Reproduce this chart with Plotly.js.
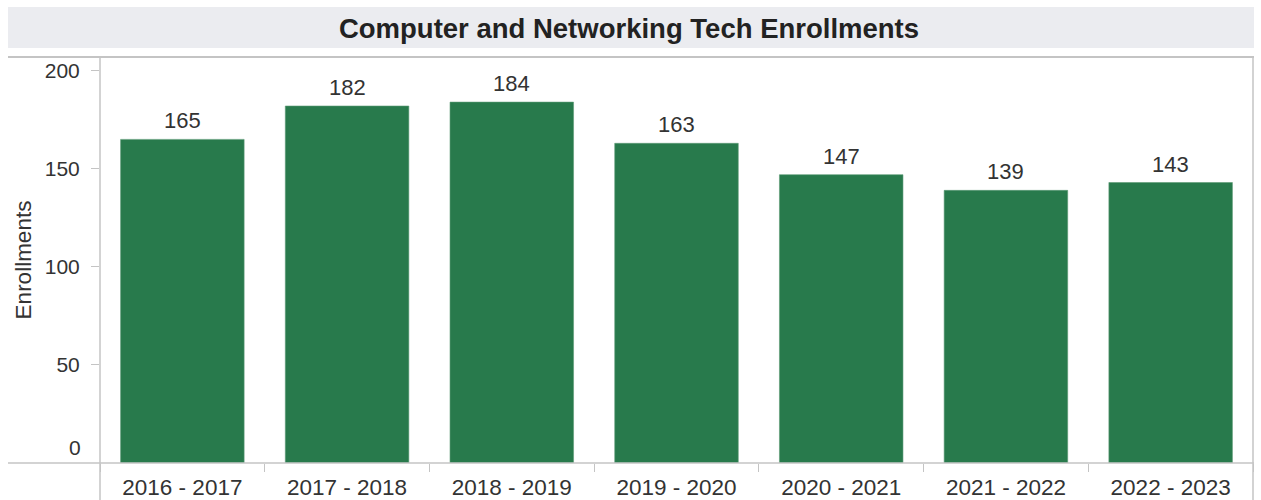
<!DOCTYPE html>
<html><head><meta charset="utf-8">
<script src="https://cdn.plot.ly/plotly-3.0.1.min.js"></script>
<style>html,body{margin:0;padding:0;background:#fff}#chart{width:1261px;height:500px}</style>
</head><body><div id="chart"></div>
<script>
const years = ["2016 - 2017","2017 - 2018","2018 - 2019","2019 - 2020","2020 - 2021","2021 - 2022","2022 - 2023"];
const enrollments = [165,182,184,163,147,139,143];
const yTicks = [50,100,150,200];
const chartTitle = "Computer and Networking Tech Enrollments";

const W=1261,H=500,L=100,R=8,T=57,B=37;
const pw=W-L-R, ph=H-T-B;
const px=x=>(x-L)/pw, py=y=>(H-B-y)/ph;
const font="Liberation Sans, Arial, sans-serif";
const txt="#333333", grid="#c4c4c4";

const trace={type:"bar",x:years,y:enrollments,marker:{color:"#287a4c",line:{color:"#5d9a76",width:0.6}},
  hoverinfo:"x+y"};

const valueLabels=years.map((c,i)=>({text:String(enrollments[i]),x:c,y:enrollments[i],xref:"x",yref:"y",
  xanchor:"center",yanchor:"bottom",yshift:4,showarrow:false,font:{family:font,size:22,color:txt}}));

const layout={width:W,height:H,margin:{l:L,r:R,t:T,b:B,pad:0},paper_bgcolor:"#fff",plot_bgcolor:"#fff",
  bargap:0.25,showlegend:false,
  title:{text:chartTitle,font:{family:font,size:27.5,color:"#222",weight:"bold"},xref:"container",x:629/W,xanchor:"center",y:1-28/H,yanchor:"middle"},
  xaxis:{type:"category",tickson:"boundaries",ticks:"outside",ticklen:8,tickcolor:grid,showline:false,showgrid:false,
    tickfont:{family:font,size:22.5,color:txt},ticklabelstandoff:8,fixedrange:true},
  yaxis:{range:[0,207],tickvals:yTicks,ticktext:yTicks.map(String),ticks:"outside",ticklen:8,tickcolor:grid,
    showgrid:false,showline:false,zeroline:false,tickfont:{family:font,size:21,color:txt},ticklabelstandoff:7,
    title:{text:"Enrollments",font:{family:font,size:22.5,color:txt},standoff:6},fixedrange:true},
  shapes:[
    {type:"rect",xref:"paper",yref:"paper",x0:px(8),x1:px(1254),y0:py(48),y1:py(7),fillcolor:"#ebecf0",line:{width:0},layer:"below"},
    {type:"line",xref:"paper",yref:"paper",x0:px(8),x1:px(1254),y0:1,y1:1,line:{color:grid,width:2}},
    {type:"line",xref:"paper",yref:"paper",x0:px(8),x1:px(1254),y0:0,y1:0,line:{color:grid,width:1.5}},
    {type:"line",xref:"paper",yref:"paper",x0:0,x1:0,y0:py(500),y1:1,line:{color:grid,width:1.5}},
    {type:"line",xref:"paper",yref:"paper",x0:1,x1:1,y0:py(500),y1:1,line:{color:grid,width:1.5}}
  ],
  annotations:[{text:"0",xref:"paper",yref:"y",x:px(83),y:0,xanchor:"right",yanchor:"middle",yshift:16,showarrow:false,font:{family:font,size:21,color:txt}}].concat(valueLabels)
};
Plotly.newPlot("chart",[trace],layout,{displayModeBar:false,staticPlot:true});
</script></body></html>
